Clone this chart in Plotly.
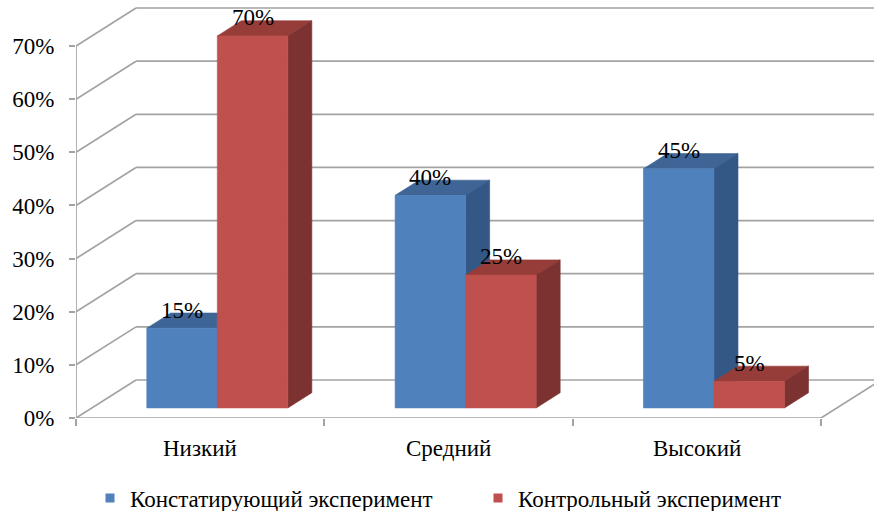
import plotly.graph_objects as go

# ---- data -------------------------------------------------------------
categories = ["Низкий", "Средний", "Высокий"]
series_names = ["Констатирующий эксперимент", "Контрольный эксперимент"]
konst_values = [15, 40, 45]      # Констатирующий эксперимент, %
kontrol_values = [70, 25, 5]     # Контрольный эксперимент, %
y_tick_values = [0, 10, 20, 30, 40, 50, 60, 70]
y_tick_labels = ["0%", "10%", "20%", "30%", "40%", "50%", "60%", "70%"]

# ---- styling / geometry ----------------------------------------------
W, H = 874, 511
ML, MB = 76, 93
PLOT_W, PLOT_H = W - ML, H - MB
PX_PER_CAT = 248.33          # horizontal pixels per category slot
PX_PER_PCT = 5.314           # vertical pixels per percent
X_MAX = PLOT_W / PX_PER_CAT
Y_MAX = PLOT_H / PX_PER_PCT

# oblique depth vector of the 3-D box (full depth), in axis units
DEPTH_X = 60 / PX_PER_CAT
DEPTH_Y = 38 / PX_PER_PCT

BAR_W = 0.284                # width of one bar in category units
GROUP_CENTER = 0.505
D_FRONT, D_BACK = 0.265, 0.665

GRID = "#a3a3a3"
FONT = "Liberation Serif, Times New Roman, serif"
TEXT_SIZE = 23
COLORS = [
    {"front": "#4f81bd", "top": "#3e6596", "side": "#335885"},
    {"front": "#c0504d", "top": "#963d3a", "side": "#7b3230"},
]
N_CAT = len(categories)


def proj(x, y, d):
    """Oblique projection of (x, value, depth) onto the chart plane."""
    return x + d * DEPTH_X, y + d * DEPTH_Y


def poly(points):
    xs, ys = [], []
    for p in points:
        px, py = proj(*p)
        xs.append(px)
        ys.append(py)
    xs.append(xs[0])
    ys.append(ys[0])
    return xs, ys


fig = go.Figure()

# ---- walls and floor ---------------------------------------------------
gx, gy = [], []
for v in y_tick_values:
    # side wall diagonal
    a = proj(0, v, 0)
    b = proj(0, v, 1)
    gx += [a[0], b[0], None]
    gy += [a[1], b[1], None]
    # back wall horizontal
    gx += [b[0], X_MAX, None]
    gy += [b[1], b[1], None]
# floor front edge and right edge
a, b = proj(0, 0, 0), proj(N_CAT, 0, 0)
gx += [a[0], b[0], None]
gy += [a[1], b[1], None]
a, b = proj(N_CAT, 0, 0), proj(N_CAT, 0, 1)
gx += [a[0], b[0], None]
gy += [a[1], b[1], None]
# front vertical axis
gx += [0, 0, None]
gy += [0, y_tick_values[-1], None]

fig.add_trace(go.Scatter(x=gx, y=gy, mode="lines",
                         line=dict(color=GRID, width=1.7),
                         hoverinfo="skip", showlegend=False))

# ---- 3-D bars ------------------------------------------------------------
all_series = [konst_values, kontrol_values]
for k in range(N_CAT):
    for s, values in enumerate(all_series):
        v = values[k]
        x0 = k + GROUP_CENTER - BAR_W + s * BAR_W
        x1 = x0 + BAR_W
        faces = [
            ("top", [(x0, v, D_FRONT), (x1, v, D_FRONT), (x1, v, D_BACK), (x0, v, D_BACK)]),
            ("side", [(x1, 0, D_FRONT), (x1, 0, D_BACK), (x1, v, D_BACK), (x1, v, D_FRONT)]),
            ("front", [(x0, 0, D_FRONT), (x1, 0, D_FRONT), (x1, v, D_FRONT), (x0, v, D_FRONT)]),
        ]
        for face, pts in faces:
            xs, ys = poly(pts)
            col = COLORS[s][face]
            fig.add_trace(go.Scatter(
                x=xs, y=ys, mode="lines", fill="toself", fillcolor=col,
                line=dict(color=col, width=0.6),
                name=series_names[s], hoverinfo="name", showlegend=False))
        # value label sitting on the top face, centred over the front face
        lx, _ = proj((x0 + x1) / 2, v, D_FRONT)
        _, ly = proj((x0 + x1) / 2, v, D_BACK)
        fig.add_annotation(x=lx, y=ly, text=f"{v}%", showarrow=False,
                           xanchor="center", yanchor="middle", yshift=3,
                           font=dict(family=FONT, size=TEXT_SIZE, color="#000000"))

# ---- category labels -----------------------------------------------------
for k, cat in enumerate(categories):
    fig.add_annotation(x=k + 0.5, xref="x", y=-30 / PLOT_H, yref="paper",
                       text=cat, showarrow=False,
                       xanchor="center", yanchor="middle",
                       font=dict(family=FONT, size=TEXT_SIZE, color="#000000"))

# ---- legend entries (one legend box per series) ---------------------------
legend_refs = ["legend", "legend2"]
for s, name in enumerate(series_names):
    fig.add_trace(go.Scatter(x=[None], y=[None], mode="markers", name=name,
                             legend=legend_refs[s],
                             marker=dict(symbol="square", size=9,
                                         color=COLORS[s]["front"]),
                             showlegend=True))

legend_style = dict(orientation="h", xanchor="left",
                    y=-(498 - PLOT_H) / PLOT_H, yanchor="middle",
                    font=dict(family=FONT, size=TEXT_SIZE, color="#000000"),
                    bgcolor="rgba(0,0,0,0)")

fig.update_layout(
    width=W, height=H,
    margin=dict(l=ML, r=0, t=0, b=MB, autoexpand=False),
    paper_bgcolor="white", plot_bgcolor="white",
    xaxis=dict(range=[0, X_MAX], tickvals=list(range(N_CAT + 1)),
               showticklabels=False, ticks="outside", ticklen=7,
               tickcolor=GRID, tickwidth=1.7,
               showgrid=False, zeroline=False, showline=False, fixedrange=True),
    yaxis=dict(range=[0, Y_MAX], tickvals=y_tick_values, ticktext=y_tick_labels,
               ticks="outside", ticklen=6, tickcolor=GRID, tickwidth=1.7,
               ticklabelstandoff=10,
               tickfont=dict(family=FONT, size=TEXT_SIZE, color="#000000"),
               showgrid=False, zeroline=False, showline=False, fixedrange=True),
    legend=dict(x=(90 - ML) / PLOT_W, **legend_style),
    legend2=dict(x=(478 - ML) / PLOT_W, **legend_style),
    showlegend=True,
)

fig.write_html("out.html")
